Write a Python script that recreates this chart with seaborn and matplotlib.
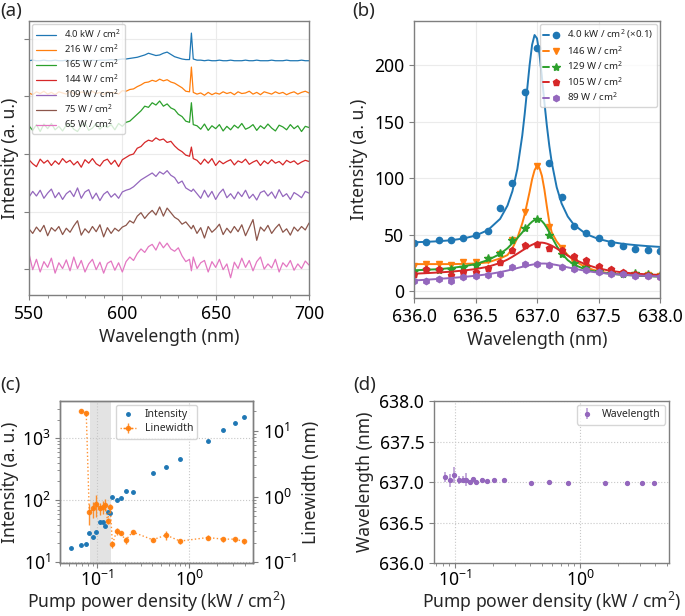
import numpy as np
import seaborn as sns
import matplotlib.pyplot as plt
from matplotlib.ticker import AutoMinorLocator, FormatStrFormatter
from matplotlib.legend_handler import HandlerTuple

# ---------------- (a) PL spectra, stacked ----------------
wl = np.concatenate([np.arange(550, 636, 2), [636, 637, 638], np.arange(640, 701, 2)])

spec_labels = ['4.0 kW / cm$^2$', '216 W / cm$^2$', '165 W / cm$^2$', '144 W / cm$^2$',
               '109 W / cm$^2$', '75 W / cm$^2$', '65 W / cm$^2$']
spec_offsets = [362, 306, 247, 186, 129, 68, 7]

spec_4000 = [0, 1, 0, 0, 1, 0, 0, 1, 0, 0, 1,
             0, 1, 0, 0, 1, 0, 1, 0, 1, 1, 1,
             2, 1, 2, 3, 3, 4, 5, 6, 8, 10, 13,
             11, 9, 10, 13, 15, 11, 7, 5, 3, 2, 2,
             48, 3, 1, 1, 0, 1, 0, 0, 1, 0, 0,
             1, 0, 0, 0, 1, 0, 0, 1, 0, 0, 0,
             1, 0, 0, 0, 1, 0, 0, 0, 1, 0, 0]
spec_216 = [0, -3, 2, -1, 3, -2, 1, -3, 2, 0, -2,
            3, -1, -3, 2, 0, -2, 3, -1, 1, -3, 2,
            0, 1, -2, 4, 3, 6, 7, 11, 14, 18, 19,
            22, 20, 24, 21, 23, 19, 17, 13, 9, 3, 2,
            45, 1, -2, 0, -4, 1, -3, 0, -2, 2, -1,
            1, -3, 2, -1, 0, 3, -2, 1, -3, 2, 0,
            -2, 2, -1, 1, -3, 0, 2, -2, 1, 3, 0]
spec_165 = [2, -6, 4, -8, 5, -3, 6, -5, 1, -7, 3,
            5, -4, -8, 2, 7, -6, -2, 6, -4, 3, -1,
            4, -5, 6, 1, 8, 10, 16, 22, 28, 36, 34,
            42, 38, 45, 36, 40, 33, 30, 22, 18, 10, 8,
            42, 4, 2, -4, 5, -6, 2, -3, 4, -7, 1,
            -5, 3, -2, 6, -4, -1, 4, -6, 2, -3, 5,
            -2, -7, 3, 0, -5, 4, -3, 2, -8, 1, -1]
spec_144 = [4, -3, -8, 5, -2, 3, -6, 2, -4, 6, -1,
            3, -5, 1, -9, 4, -2, 6, -3, -7, 2, 5,
            -4, 3, -8, 4, 8, 12, 14, 24, 27, 34, 38,
            36, 42, 38, 40, 34, 36, 28, 22, 18, 12, 10,
            26, 6, 3, -4, 5, -2, 6, -6, 2, -3, 1,
            4, -5, 2, -1, 5, -4, 0, 3, -6, 2, -3,
            4, -2, 1, -5, 3, -1, 2, -4, 0, 3, 1]
spec_109 = [-4, 6, -2, 8, -6, 3, 10, -5, 4, -8, 2,
            7, -3, 12, -6, 5, 9, -7, 3, -10, 1, 6,
            -4, 2, -6, 5, 8, 10, 14, 20, 26, 30, 34,
            38, 32, 40, 36, 42, 34, 30, 20, 24, 12, 8,
            6, 10, 2, -6, 8, -4, 6, -8, 3, 10, -5,
            2, -7, 5, -3, 8, -6, 1, -9, 4, 7, -2,
            5, -6, 9, -3, 2, -8, 4, 0, -5, 6, 3]
spec_75 = [2, -6, 5, -3, 8, -10, 4, -2, 6, -8, 3,
           -4, 7, 16, -9, 2, -5, 6, -3, 9, -12, 4,
           -6, 3, -2, 5, 8, 16, 12, 24, 30, 20, 28,
           34, 26, 40, 24, 38, 30, 22, 18, 10, 14, 6,
           2, 8, -6, 4, -14, 6, -4, 2, 10, -8, 3,
           -5, 6, -3, 9, -10, 4, 18, -18, 5, -2, 8,
           -6, 3, 10, -4, 2, -9, 5, -2, 6, 0, 12]
spec_65 = [20, -8, 10, -12, 6, -4, 12, -14, 4, -6, 9,
           -10, 14, -6, 8, -12, 2, 10, -8, 5, -14, 3,
           7, -9, 4, -12, 6, 14, 8, 20, 28, 22, 32,
           36, 26, 40, 30, 38, 28, 24, 30, 16, 6, 10,
           -10, 14, -6, 4, 8, -12, 6, -4, 10, -8, 2,
           -22, 5, -6, 12, -4, 8, -10, 6, 14, -7, 2,
           -5, 10, -12, 4, -3, 8, -9, 2, -6, 7, 0]
spectra = [spec_4000, spec_216, spec_165, spec_144, spec_109, spec_75, spec_65]

# ---------------- (b) cavity mode + fits ----------------
b_wl = [636.0, 636.1, 636.2, 636.3, 636.4, 636.5, 636.6, 636.7, 636.8, 636.9, 637.0,
        637.1, 637.2, 637.3, 637.4, 637.5, 637.6, 637.7, 637.8, 637.9, 638.0]
b_labels = ['4.0 kW / cm$^2$ (×0.1)', '146 W / cm$^2$', '129 W / cm$^2$',
            '105 W / cm$^2$', '89 W / cm$^2$']
b_pts_4000 = [42.7, 43.6, 45.1, 45.7, 47.5, 49.6, 53.1, 74.0, 95.3, 176, 215,
              113.6, 83.2, 58.1, 51.3, 47.2, 42.7, 40.1, 37.5, 36.3, 35.7]
b_pts_146 = [22.4, 24.5, 24.5, 23.5, 26, 25.5, 28, 33, 45, 70, 111,
             56.5, 38.5, 26, 21, 18, 16, 15, 14.5, 14, 13.5]
b_pts_129 = [17.5, 18.5, 19, 19.5, 21, 23, 29, 33.5, 45.5, 55.5, 63.5,
             50, 32.5, 25, 21, 18, 16.5, 15.5, 16.5, 15.5, 14.5]
b_pts_105 = [15.6, 19.5, 19.5, 14.2, 17.4, 16.8, 20.4, 26.3, 36.9, 40.7, 42.2,
             38.3, 36.3, 31, 27.4, 22.4, 20, 17, 15, 14.2, 13.5]
b_pts_89 = [8.8, 9.1, 11.2, 9.1, 12.7, 13.3, 14.5, 15, 21, 23.9, 24.5,
            23.6, 21.5, 20, 18.6, 17, 15.6, 15, 13.9, 13.3, 13]

fit_wl = [636.0, 636.1, 636.2, 636.3, 636.4, 636.5, 636.6, 636.7, 636.76, 636.8, 636.84,
          636.88, 636.9, 636.92, 636.94, 636.96, 636.98, 637.0, 637.02, 637.04, 637.06,
          637.08, 637.1, 637.12, 637.16, 637.2, 637.25, 637.3, 637.4, 637.5, 637.6,
          637.7, 637.8, 637.9, 638.0]
fit_4000 = [43.3, 43.7, 44.2, 45.1, 46.6, 49.2, 54.0, 64.0, 75.8, 88.5, 108,
            137.6, 156.9, 178.6, 200.2, 217.9, 226.6, 223.6, 209.8, 189.3, 167.2,
            146.5, 128.6, 113.8, 92.0, 77.6, 66.1, 58.8, 50.5, 46.2, 43.6,
            41.9, 40.8, 39.9, 39.2]
fit_146 = [24, 24, 24, 24, 24.2, 24.5, 25.5, 29, 32, 38, 47,
           60, 68, 78, 88, 99, 107, 111, 109, 102, 90,
           75, 61, 52, 44, 38.5, 32, 27, 21, 17.5, 15.8,
           14.8, 14.1, 13.6, 13.2]
fit_129 = [18.5, 19, 19.5, 20.5, 22, 24, 27.5, 33, 38, 42.5, 47,
           52, 54.5, 57, 59.5, 61.5, 63, 63.8, 63.5, 62, 59.5,
           56, 52, 48, 40, 33.5, 27.5, 23.5, 19, 16.8, 15.4,
           14.5, 13.8, 13.3, 12.9]
fit_105 = [15.5, 16, 16.6, 17.3, 18.3, 19.6, 21.6, 25, 28, 30.5, 33.2,
           36, 37.3, 38.6, 40, 41.1, 42, 42.6, 43, 43, 42.7,
           42.1, 41.3, 40.3, 37.8, 35, 31.5, 28.3, 23.5, 20.2, 18,
           16.6, 15.6, 14.9, 14.4]
fit_89 = [9.5, 10.2, 10.9, 11.7, 12.6, 13.7, 15, 16.9, 18.3, 19.4, 20.5,
          21.6, 22.1, 22.6, 23.1, 23.5, 23.9, 24.2, 24.4, 24.5, 24.5,
          24.4, 24.2, 23.9, 23.2, 22.3, 21.1, 20, 17.9, 16.4, 15.4,
          14.6, 14, 13.5, 13.1]
b_points = [b_pts_4000, b_pts_146, b_pts_129, b_pts_105, b_pts_89]
b_fits = [fit_4000, fit_146, fit_129, fit_105, fit_89]
b_markers = ['o', 'v', '*', 'p', 'h']

# ---------------- (c), (d) power dependence ----------------
pump = [0.052, 0.068, 0.077, 0.083, 0.092, 0.099, 0.108, 0.116, 0.123, 0.131, 0.140, 0.148,
        0.164, 0.181, 0.205, 0.245, 0.405, 0.564, 0.80, 1.59, 2.36, 3.13, 3.9]
intensity = [16.6, 18.7, 19.2, 29.2, 25.6, 30, 43.5, 43.5, 38, 64.5, 61, 110,
             99, 109, 142, 134, 272, 338, 452, 916, 1337, 1782, 2239]
# linewidth measured from the 2nd power onward
linewidth = [20.2, 18.4, 0.577, 0.661, 0.767, 0.661, 0.70, 0.757, 0.43, 0.684, 0.188,
             0.299, 0.283, 0.218, 0.29, 0.221, 0.261, 0.211, 0.239, 0.226, 0.226, 0.209]
linewidth_err = [1.5, 1.5, 0.2, 0.18, 0.28, 0.14, 0.15, 0.16, 0.05, 0.1, 0.02,
                 0.04, 0.02, 0.025, 0.02, 0.015, 0.04, 0.02, 0.02, 0.018, 0.02, 0.015]
pump_err = [0.003, 0.003, 0.003, 0.004, 0.004, 0.004, 0.005, 0.005, 0.005, 0.006, 0.006,
            0.006, 0.007, 0.008, 0.009, 0.016, 0.022, 0.03, 0.06, 0.09, 0.12, 0.15]
# peak wavelength measured from the 4th power onward
peak_wl = [637.064, 637.02, 637.084, 637.02, 637.03, 637.03, 637.0, 637.036, 637.004, 637.02,
           637.012, 637.02, 637.024, 636.992, 636.995, 636.99, 636.988, 636.988, 636.988, 636.988]
peak_wl_err = [0.06, 0.08, 0.10, 0.05, 0.04, 0.08, 0.03, 0.03, 0.01, 0.025,
               0.008, 0.005, 0.005, 0.004, 0.004, 0.004, 0.003, 0.003, 0.003, 0.003]
band = (0.0854, 0.142)

# ---------------- style ----------------
sns.set_style('ticks')
plt.rcParams['font.family'] = ['Noto Sans', 'DejaVu Sans']
plt.rcParams['mathtext.fontset'] = 'custom'
plt.rcParams['mathtext.rm'] = 'Noto Sans'
plt.rcParams['mathtext.it'] = 'Noto Sans:italic'
plt.rcParams['mathtext.bf'] = 'Noto Sans:bold'
plt.rcParams['axes.unicode_minus'] = True
pal = sns.color_palette('tab10')
SPINE = '#7f7f7f'
FS = 12.6

def style_axes(ax):
    for s in ax.spines.values():
        s.set_color(SPINE)
        s.set_linewidth(1.0)
    ax.tick_params(which='both', colors=SPINE, labelcolor='black', labelsize=FS)

fig = plt.figure(figsize=(6.85, 6.16), dpi=100)
axa = fig.add_axes([0.0423, 0.5211, 0.4088, 0.4448])
axb = fig.add_axes([0.6044, 0.5162, 0.3591, 0.4497])
axc = fig.add_axes([0.0876, 0.0860, 0.2818, 0.2630])
axd = fig.add_axes([0.6336, 0.0860, 0.3431, 0.2630])

# (a)
for i, (lab, y, off) in enumerate(zip(spec_labels, spectra, spec_offsets)):
    sns.lineplot(x=wl, y=np.array(y) + off, ax=axa, color=pal[i], lw=0.9,
                 estimator=None, sort=False, label=lab)
axa.set_xlim(550, 700)
axa.set_ylim(-45, 431)
axa.set_xticks([550, 600, 650, 700])
axa.xaxis.set_minor_locator(AutoMinorLocator(5))
axa.set_yticks([0, 100, 200, 300, 400])
axa.set_yticklabels([])
axa.grid(True, color='#ebebeb', lw=0.8)
axa.set_axisbelow(True)
axa.set_xlabel('Wavelength (nm)', fontsize=FS)
axa.set_ylabel('Intensity (a. u.)', fontsize=FS, labelpad=0)
axa.legend(loc='upper left', fontsize=6.8, handlelength=2.2, borderaxespad=0.3,
           labelspacing=0.25, framealpha=0.8)
style_axes(axa)

# (b)
handles = []
for i, (pts, fit, m) in enumerate(zip(b_points, b_fits, b_markers)):
    ms = 6 if m == '*' else 4.5
    pt, = axb.plot(b_wl, pts, ls='none', marker=m, ms=ms, color=pal[i])
    sns.lineplot(x=fit_wl, y=fit, ax=axb, color=pal[i], lw=1.4, estimator=None)
    handles.append((axb.lines[-1], pt))
axb.set_xlim(636.0, 638.0)
axb.set_ylim(-6, 239)
axb.set_xticks([636.0, 636.5, 637.0, 637.5, 638.0])
axb.xaxis.set_major_formatter(FormatStrFormatter('%.1f'))
axb.set_yticks([0, 50, 100, 150, 200])
axb.grid(True, color='#ebebeb', lw=0.8)
axb.set_axisbelow(True)
axb.set_xlabel('Wavelength (nm)', fontsize=FS)
axb.set_ylabel('Intensity (a. u.)', fontsize=FS)
axb.legend(handles, b_labels, handler_map={tuple: HandlerTuple(ndivide=None)},
           loc='upper right', fontsize=7, borderaxespad=0.3, labelspacing=0.3,
           handlelength=1.6)
style_axes(axb)

# (c)
axc.set_xscale('log')
axc.set_yscale('log')
axc.axvspan(*band, color='#e3e3e3', zorder=0, lw=0)
h_int, = axc.plot(pump, intensity, ls='none', marker='.', ms=5, color=pal[0],
                  label='Intensity')
axc.set_xlim(0.040, 4.94)
axc.set_ylim(9.55, 3990)
axc.grid(True, which='major', ls=':', color='#c8c8c8', lw=0.8)
axc.set_xlabel('Pump power density (kW / cm$^2$)', fontsize=FS, labelpad=0)
axc.set_ylabel('Intensity (a. u.)', fontsize=FS, labelpad=2)
axc2 = axc.twinx()
axc2.set_yscale('log')
h_lw = axc2.errorbar(pump[1:], linewidth, yerr=linewidth_err, xerr=pump_err,
                     fmt='o', ls=':', lw=1.0, ms=3, color=pal[1], ecolor=pal[1],
                     elinewidth=1.0, alpha=0.85, label='Linewidth')
axc2.set_ylim(0.098, 28.4)
axc2.set_ylabel('Linewidth (nm)', fontsize=FS)
axc2.legend([h_int, h_lw], ['Intensity', 'Linewidth'], loc='upper center',
            fontsize=7.5, borderaxespad=0.4, handlelength=1.6, labelspacing=0.3)
style_axes(axc)
style_axes(axc2)
axc.tick_params(axis='x', pad=1.5)

# (d)
axd.set_xscale('log')
purple_err = (*pal[4], 0.55)
axd.errorbar(pump[3:], peak_wl, yerr=peak_wl_err, fmt='o', ms=2.8, color=pal[4],
             ecolor=purple_err, elinewidth=1.4, label='Wavelength')
axd.set_xlim(0.068, 5.15)
axd.set_ylim(636.0, 638.0)
axd.set_yticks([636.0, 636.5, 637.0, 637.5, 638.0])
axd.yaxis.set_major_formatter(FormatStrFormatter('%.1f'))
axd.grid(True, which='major', ls=':', color='#c8c8c8', lw=0.8)
axd.set_xlabel('Pump power density (kW / cm$^2$)', fontsize=FS, labelpad=0)
axd.set_ylabel('Wavelength (nm)', fontsize=FS)
axd.legend(loc='upper right', fontsize=7.5, handlelength=1.2, borderaxespad=0.4)
style_axes(axd)
axd.tick_params(axis='x', pad=1.5)

# panel letters
fig.text(0.0, 0.997, '(a)', fontsize=13.5, va='top', ha='left')
fig.text(0.514, 0.997, '(b)', fontsize=13.5, va='top', ha='left')
fig.text(0.0, 0.390, '(c)', fontsize=13.5, va='top', ha='left')
fig.text(0.516, 0.390, '(d)', fontsize=13.5, va='top', ha='left')

fig.savefig('out.png', dpi=100)
